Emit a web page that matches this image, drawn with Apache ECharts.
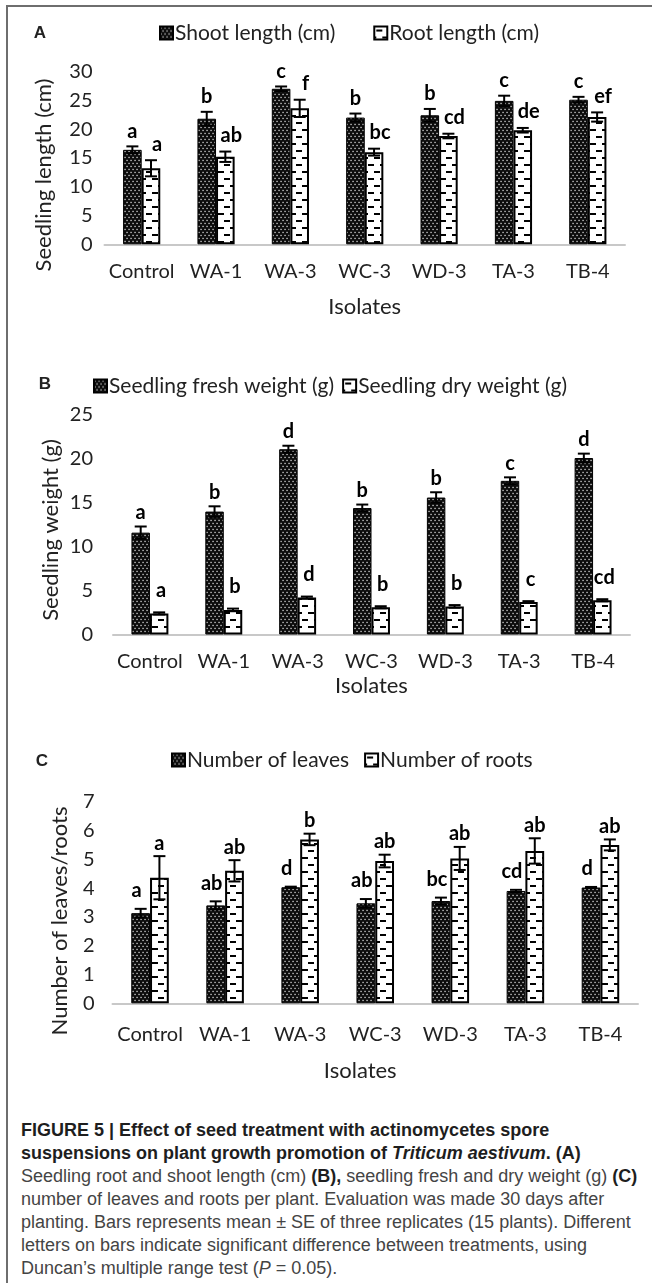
<!DOCTYPE html>
<html>
<head>
<meta charset="utf-8">
<script src="https://cdn.jsdelivr.net/npm/echarts@6/dist/echarts.min.js"></script>
<style>
html,body{margin:0;padding:0;background:#fff;}
#frame{position:absolute;left:6px;top:5px;width:646px;height:1278px;border-left:2px solid #6e6e6e;border-top:2px solid #6e6e6e;box-sizing:border-box;}
#chart{position:absolute;left:0;top:0;width:652px;height:1100px;}
#caption{position:absolute;left:21px;top:1119px;white-space:nowrap;font-family:"Liberation Sans",Arial,sans-serif;font-size:18px;line-height:23px;color:#444;}
#caption b{color:#1e1e1e;}
</style>
</head>
<body>
<div id="frame"></div>
<div id="chart"></div>
<div id="caption">
<b>FIGURE 5 | Effect of seed treatment with actinomycetes spore</b><br>
<b>suspensions on plant growth promotion of <i>Triticum aestivum</i>. (A)</b><br>
Seedling root and shoot length (cm) <b>(B),</b> seedling fresh and dry weight (g) <b>(C)</b><br>
number of leaves and roots per plant. Evaluation was made 30 days after<br>
planting. Bars represents mean ± SE of three replicates (15 plants). Different<br>
letters on bars indicate significant difference between treatments, using<br>
Duncan’s multiple range test (<i>P</i> = 0.05).
</div>
<script>
// ---------- data ----------
const categories = ['Control', 'WA-1', 'WA-3', 'WC-3', 'WD-3', 'TA-3', 'TB-4'];

const shootLength   = [16.4, 21.8, 27.0, 22.0, 22.4, 24.9, 25.1];
const shootLengthSE = [0.6, 1.2, 0.4, 0.7, 1.1, 0.9, 0.5];
const rootLength    = [13.2, 15.2, 23.6, 16.0, 18.8, 19.8, 22.1];
const rootLengthSE  = [1.4, 0.9, 1.5, 0.6, 0.4, 0.4, 0.8];
const shootLetters  = ['a', 'b', 'c', 'b', 'b', 'c', 'c'];
const rootLetters   = ['a', 'ab', 'f', 'bc', 'cd', 'de', 'ef'];

const freshWeight   = [11.6, 14.0, 21.1, 14.4, 15.6, 17.5, 20.1];
const freshWeightSE = [0.7, 0.6, 0.4, 0.4, 0.6, 0.4, 0.5];
const dryWeight     = [2.4, 2.8, 4.2, 3.1, 3.2, 3.7, 3.9];
const dryWeightSE   = [0.12, 0.15, 0.12, 0.12, 0.15, 0.1, 0.12];
const freshLetters  = ['a', 'b', 'd', 'b', 'b', 'c', 'd'];
const dryLetters    = ['a', 'b', 'd', 'b', 'b', 'c', 'cd'];

const leavesNum     = [3.13, 3.4, 4.03, 3.47, 3.55, 3.9, 4.02];
const leavesNumSE   = [0.15, 0.14, 0.02, 0.15, 0.12, 0.04, 0.02];
const rootsNum      = [4.36, 4.6, 5.69, 4.94, 5.03, 5.29, 5.5];
const rootsNumSE    = [0.75, 0.37, 0.2, 0.22, 0.4, 0.44, 0.19];
const leavesLetters = ['a', 'ab', 'd', 'ab', 'bc', 'cd', 'd'];
const rootsLetters  = ['a', 'ab', 'b', 'ab', 'ab', 'ab', 'ab'];

const yTitles = ['Seedling length (cm)', 'Seedling weight (g)', 'Number of leaves/roots'];
const xTitle = 'Isolates';
const panelTags = ['A', 'B', 'C'];

// ---------- styles ----------
const FONT = 'Lato';
const TXT = '#222';
const GAP = 0.5;

function dotCanvas() {
  const c = document.createElement('canvas'); c.width = 4; c.height = 6;
  const g = c.getContext('2d');
  g.fillStyle = '#0b0b0b'; g.fillRect(0, 0, 4, 6);
  g.fillStyle = '#d9d9d9';
  g.fillRect(0.4, 0.8, 1.3, 1.3);
  g.fillRect(2.4, 3.8, 1.3, 1.3);
  return c;
}
function dashCanvas() {
  const c = document.createElement('canvas'); c.width = 12; c.height = 14;
  const g = c.getContext('2d');
  g.fillStyle = '#ffffff'; g.fillRect(0, 0, 12, 14);
  g.fillStyle = '#000000';
  g.fillRect(2, 3, 6, 2);
  g.fillRect(8, 10, 6, 2);
  g.fillRect(-4, 10, 6, 2);
  return c;
}
const darkFill = { image: dotCanvas(), repeat: 'repeat' };
const lightFill = { image: dashCanvas(), repeat: 'repeat' };

function barSeries(name, data, dark, axisIdx) {
  return {
    type: 'bar', name, data, xAxisIndex: axisIdx, yAxisIndex: axisIdx,
    barGap: '0%', barCategoryGap: (GAP * 100) + '%',
    itemStyle: dark
      ? { color: darkFill, borderColor: '#000', borderWidth: 1 }
      : { color: lightFill, borderColor: '#000', borderWidth: 2 },
    emphasis: { disabled: true }, silent: true, z: 2
  };
}

function errSeries(values, ses, letters, side, axisIdx, dx, dy) {
  return {
    type: 'custom', xAxisIndex: axisIdx, yAxisIndex: axisIdx, silent: true, z: 5, clip: false,
    data: values.map((v, i) => [i, v, ses[i]]),
    encode: { x: 0, y: 1 },
    renderItem: function (params, api) {
      const i = api.value(0), v = api.value(1), se = api.value(2);
      const band = api.size([1, 0])[0];
      const bw = band * (1 - GAP) / 2;
      const cx = api.coord([i, 0])[0] + side * bw / 2;
      const yT = api.coord([i, v + se])[1];
      const yB = api.coord([i, v - se])[1];
      const cap = 6;
      const st = { stroke: '#000', lineWidth: 2 };
      return {
        type: 'group', children: [
          { type: 'line', shape: { x1: cx, y1: yT, x2: cx, y2: yB }, style: st },
          { type: 'line', shape: { x1: cx - cap, y1: yT, x2: cx + cap, y2: yT }, style: st },
          { type: 'line', shape: { x1: cx - cap, y1: yB, x2: cx + cap, y2: yB }, style: st },
          { type: 'text', style: { text: letters[params.dataIndex], x: cx + dx, y: yT - dy,
              align: 'center', verticalAlign: 'middle', fill: '#000',
              font: 'bold 20px ' + FONT } }
        ]
      };
    }
  };
}

function xAx(gi, margin, nameGap, pad) {
  return {
    type: 'category', gridIndex: gi, data: categories,
    axisLine: { show: true, lineStyle: { color: '#c8c8c8', width: 2 } },
    axisTick: { show: false }, splitLine: { show: false },
    axisLabel: { margin, fontSize: 20, color: TXT, fontFamily: FONT, interval: 0 },
    name: xTitle, nameLocation: 'middle', nameGap,
    nameTextStyle: { fontSize: 22, color: TXT, fontFamily: FONT, padding: pad }
  };
}
function yAx(gi, max, interval, margin) {
  return {
    type: 'value', gridIndex: gi, min: 0, max, interval,
    axisLine: { show: false }, axisTick: { show: false }, splitLine: { show: false },
    axisLabel: { margin, fontSize: 20, color: TXT, fontFamily: FONT }
  };
}
function legend(names, left, top, gap) {
  return {
    data: names, left, top, itemGap: gap, itemWidth: 13, itemHeight: 13,
    icon: 'rect', selectedMode: false,
    textStyle: { fontSize: 21, color: TXT, fontFamily: FONT, padding: [0, 0, 0, -3] }
  };
}
function yTitle(text, x, y) {
  return { type: 'text', x, y, rotation: Math.PI / 2, silent: true,
    style: { text, align: 'center', verticalAlign: 'middle', font: '22px ' + FONT, fill: TXT } };
}
function tag(text, x, y) {
  return { type: 'text', x, y, silent: true,
    style: { text, align: 'center', verticalAlign: 'middle', font: 'bold 17px "Liberation Sans"', fill: '#222' } };
}

const chart = echarts.init(document.getElementById('chart'), null, { renderer: 'canvas' });
chart.setOption({
  animation: false,
  backgroundColor: 'transparent',
  grid: [
    { left: 104.5, right: 27, top: 71.5, height: 172.8 },
    { left: 113, right: 22, top: 415, height: 219.5 },
    { left: 112.5, right: 14, top: 801.7, height: 201.6 }
  ],
  xAxis: [xAx(0, 17.5, 51.5, [0, 0, 0, 0]), xAx(1, 17, 40.5, [0, 0, 0, 0]), xAx(2, 21.5, 56.5, [0, 30, 0, 0])],
  yAxis: [yAx(0, 30, 5, 12), yAx(1, 25, 5, 20), yAx(2, 7, 1, 18)],
  legend: [
    legend(['Shoot length (cm)', 'Root length (cm)'], 154, 17.5, 38),
    legend(['Seedling fresh weight (g)', 'Seedling dry weight (g)'], 88, 370.5, 8),
    legend(['Number of leaves', 'Number of roots'], 166, 744.5, 15)
  ],
  graphic: [
    tag(panelTags[0], 40, 33), tag(panelTags[1], 45, 384), tag(panelTags[2], 42, 761),
    yTitle(yTitles[0], 43.5, 175), yTitle(yTitles[1], 51, 530), yTitle(yTitles[2], 60, 921)
  ],
  series: [
    barSeries('Shoot length (cm)', shootLength, true, 0),
    barSeries('Root length (cm)', rootLength, false, 0),
    errSeries(shootLength, shootLengthSE, shootLetters, -1, 0, 0, 15),
    errSeries(rootLength, rootLengthSE, rootLetters, 1, 0, 6, 16),

    barSeries('Seedling fresh weight (g)', freshWeight, true, 1),
    barSeries('Seedling dry weight (g)', dryWeight, false, 1),
    errSeries(freshWeight, freshWeightSE, freshLetters, -1, 1, 0, 14),
    errSeries(dryWeight, dryWeightSE, dryLetters, 1, 1, 2, 22),

    barSeries('Number of leaves', leavesNum, true, 2),
    barSeries('Number of roots', rootsNum, false, 2),
    errSeries(leavesNum, leavesNumSE, leavesLetters, -1, 2, -4, 18),
    errSeries(rootsNum, rootsNumSE, rootsLetters, 1, 2, 0, 13)
  ]
});
</script>
</body>
</html>
